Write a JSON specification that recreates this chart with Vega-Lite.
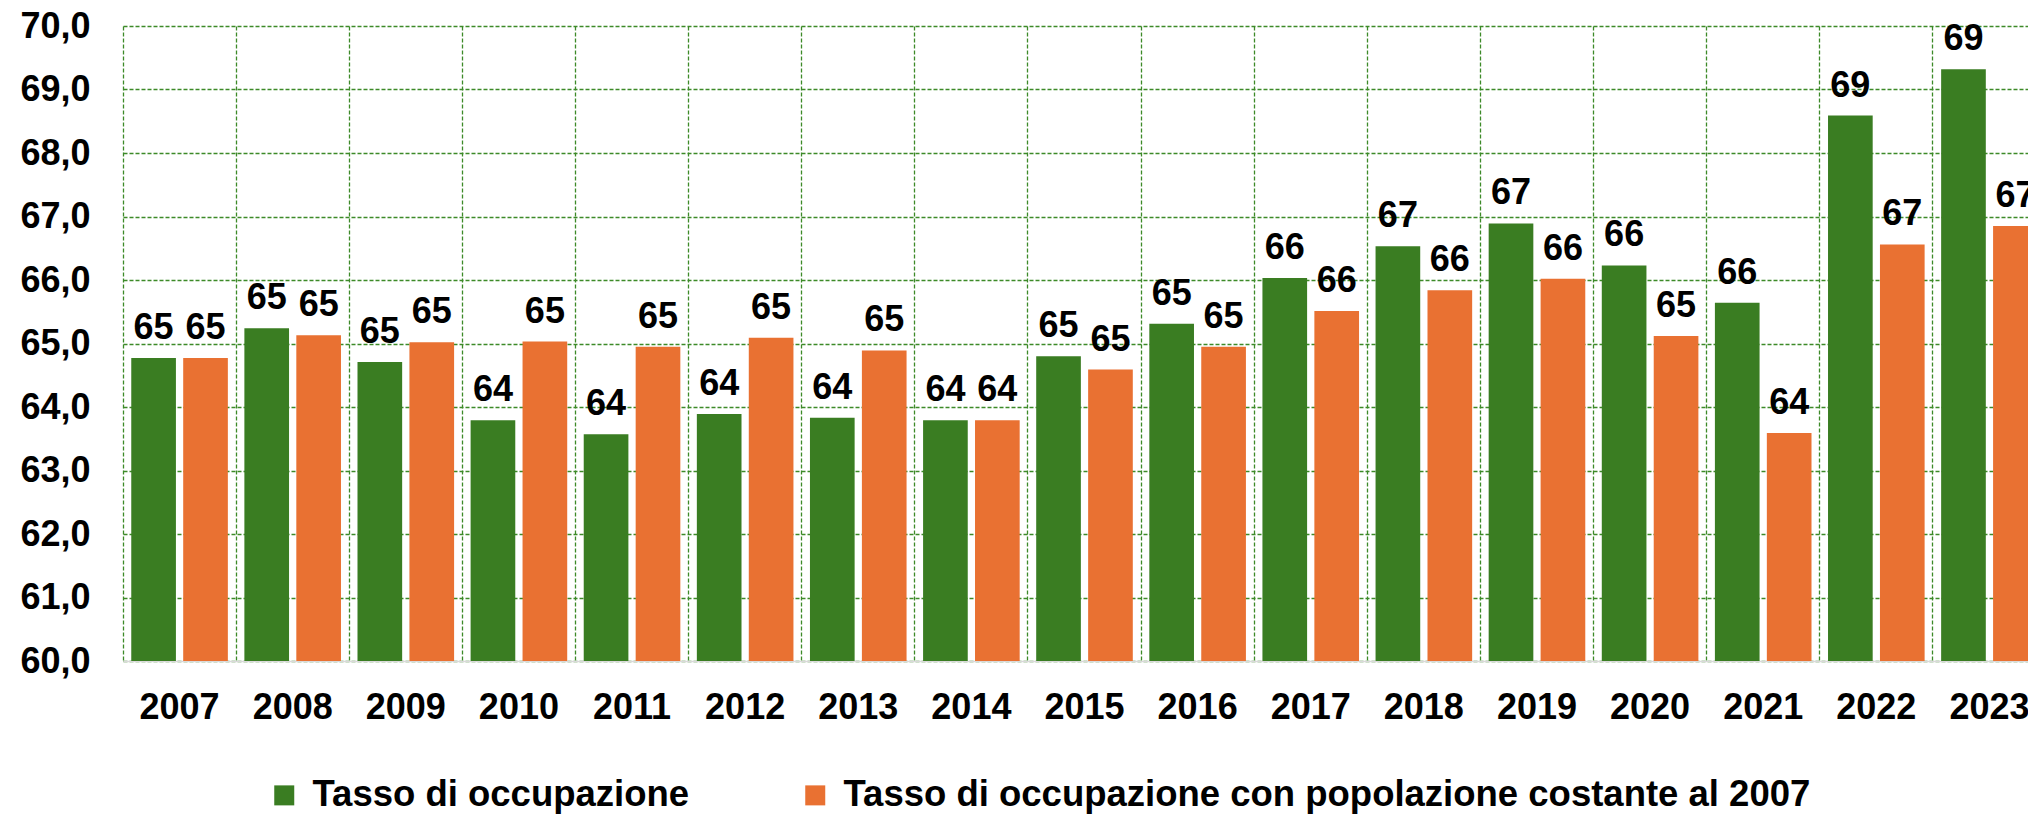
{
  "$schema": "https://vega.github.io/schema/vega-lite/v6.json",
  "width": 1905,
  "height": 635,
  "autosize": {"type": "none"},
  "padding": {"left": 123, "top": 26, "right": 0, "bottom": 153},
  "background": "white",
  "config": {"view": {"stroke": null}, "font": "Liberation Sans"},
  "data": {"values": [
    {"anno": "2007", "serie": "Tasso di occupazione", "valore": 64.77},
    {"anno": "2007", "serie": "Tasso di occupazione con popolazione costante al 2007", "valore": 64.77},
    {"anno": "2008", "serie": "Tasso di occupazione", "valore": 65.24},
    {"anno": "2008", "serie": "Tasso di occupazione con popolazione costante al 2007", "valore": 65.13},
    {"anno": "2009", "serie": "Tasso di occupazione", "valore": 64.71},
    {"anno": "2009", "serie": "Tasso di occupazione con popolazione costante al 2007", "valore": 65.02},
    {"anno": "2010", "serie": "Tasso di occupazione", "valore": 63.79},
    {"anno": "2010", "serie": "Tasso di occupazione con popolazione costante al 2007", "valore": 65.03},
    {"anno": "2011", "serie": "Tasso di occupazione", "valore": 63.57},
    {"anno": "2011", "serie": "Tasso di occupazione con popolazione costante al 2007", "valore": 64.95},
    {"anno": "2012", "serie": "Tasso di occupazione", "valore": 63.89},
    {"anno": "2012", "serie": "Tasso di occupazione con popolazione costante al 2007", "valore": 65.09},
    {"anno": "2013", "serie": "Tasso di occupazione", "valore": 63.83},
    {"anno": "2013", "serie": "Tasso di occupazione con popolazione costante al 2007", "valore": 64.89},
    {"anno": "2014", "serie": "Tasso di occupazione", "valore": 63.79},
    {"anno": "2014", "serie": "Tasso di occupazione con popolazione costante al 2007", "valore": 63.79},
    {"anno": "2015", "serie": "Tasso di occupazione", "valore": 64.8},
    {"anno": "2015", "serie": "Tasso di occupazione con popolazione costante al 2007", "valore": 64.59},
    {"anno": "2016", "serie": "Tasso di occupazione", "valore": 65.31},
    {"anno": "2016", "serie": "Tasso di occupazione con popolazione costante al 2007", "valore": 64.95},
    {"anno": "2017", "serie": "Tasso di occupazione", "valore": 66.03},
    {"anno": "2017", "serie": "Tasso di occupazione con popolazione costante al 2007", "valore": 65.51},
    {"anno": "2018", "serie": "Tasso di occupazione", "valore": 66.53},
    {"anno": "2018", "serie": "Tasso di occupazione con popolazione costante al 2007", "valore": 65.84},
    {"anno": "2019", "serie": "Tasso di occupazione", "valore": 66.89},
    {"anno": "2019", "serie": "Tasso di occupazione con popolazione costante al 2007", "valore": 66.02},
    {"anno": "2020", "serie": "Tasso di occupazione", "valore": 66.23},
    {"anno": "2020", "serie": "Tasso di occupazione con popolazione costante al 2007", "valore": 65.12},
    {"anno": "2021", "serie": "Tasso di occupazione", "valore": 65.64},
    {"anno": "2021", "serie": "Tasso di occupazione con popolazione costante al 2007", "valore": 63.59},
    {"anno": "2022", "serie": "Tasso di occupazione", "valore": 68.59},
    {"anno": "2022", "serie": "Tasso di occupazione con popolazione costante al 2007", "valore": 66.56},
    {"anno": "2023", "serie": "Tasso di occupazione", "valore": 69.32},
    {"anno": "2023", "serie": "Tasso di occupazione con popolazione costante al 2007", "valore": 66.85}
  ]},
  "encoding": {
    "x": {
      "field": "anno", "type": "ordinal",
      "scale": {"range": [0, 1923], "paddingInner": 0, "paddingOuter": 0},
      "axis": {
        "title": null, "labelAngle": 0, "labelFontSize": 36, "labelFontWeight": "bold",
        "labelColor": "black", "labelFont": "Liberation Sans", "labelPadding": 29,
        "ticks": false, "tickSize": 0, "bandPosition": 0,
        "domainColor": "#d9d9d9", "domainWidth": 1.5,
        "grid": true, "gridColor": "#3d8a28", "gridDash": [4, 2], "gridWidth": 1.3
      }
    },
    "xOffset": {
      "field": "serie", "type": "nominal",
      "sort": ["Tasso di occupazione", "Tasso di occupazione con popolazione costante al 2007"],
      "scale": {"paddingInner": 0.14, "paddingOuter": 0.159}
    },
    "y": {
      "field": "valore", "type": "quantitative",
      "scale": {"domain": [60, 70], "zero": false, "nice": false},
      "axis": {
        "title": null, "values": [60, 61, 62, 63, 64, 65, 66, 67, 68, 69, 70],
        "labelExpr": "replace(format(datum.value, '.1f'), '.', ',')",
        "labelFontSize": 36, "labelFontWeight": "bold", "labelColor": "black",
        "labelFont": "Liberation Sans", "labelPadding": 33,
        "ticks": false, "tickSize": 0, "domain": false,
        "grid": true, "gridColor": "#3d8a28", "gridDash": [4, 2], "gridWidth": 1.3
      }
    }
  },
  "layer": [
    {
      "mark": {"type": "bar"},
      "encoding": {
        "y2": {"datum": 60},
        "color": {
          "field": "serie", "type": "nominal",
          "scale": {
            "domain": ["Tasso di occupazione", "Tasso di occupazione con popolazione costante al 2007"],
            "range": ["#3A7D22", "#E97132"]
          },
          "legend": {
            "title": null, "orient": "none", "direction": "horizontal",
            "legendX": 143, "legendY": 751, "padding": 0,
            "symbolType": "square", "symbolSize": 400, "symbolStrokeWidth": 0,
            "labelFontSize": 36.5, "labelFontWeight": "bold", "labelColor": "black",
            "labelFont": "Liberation Sans", "labelLimit": 2000, "labelOffset": 10,
            "columnPadding": 107
          }
        }
      }
    },
    {
      "mark": {"type": "text", "baseline": "alphabetic", "dy": -19, "fontSize": 36, "fontWeight": "bold", "font": "Liberation Sans", "color": "black"},
      "encoding": {
        "text": {"field": "valore", "type": "quantitative", "format": ".0f"}
      }
    }
  ]
}
